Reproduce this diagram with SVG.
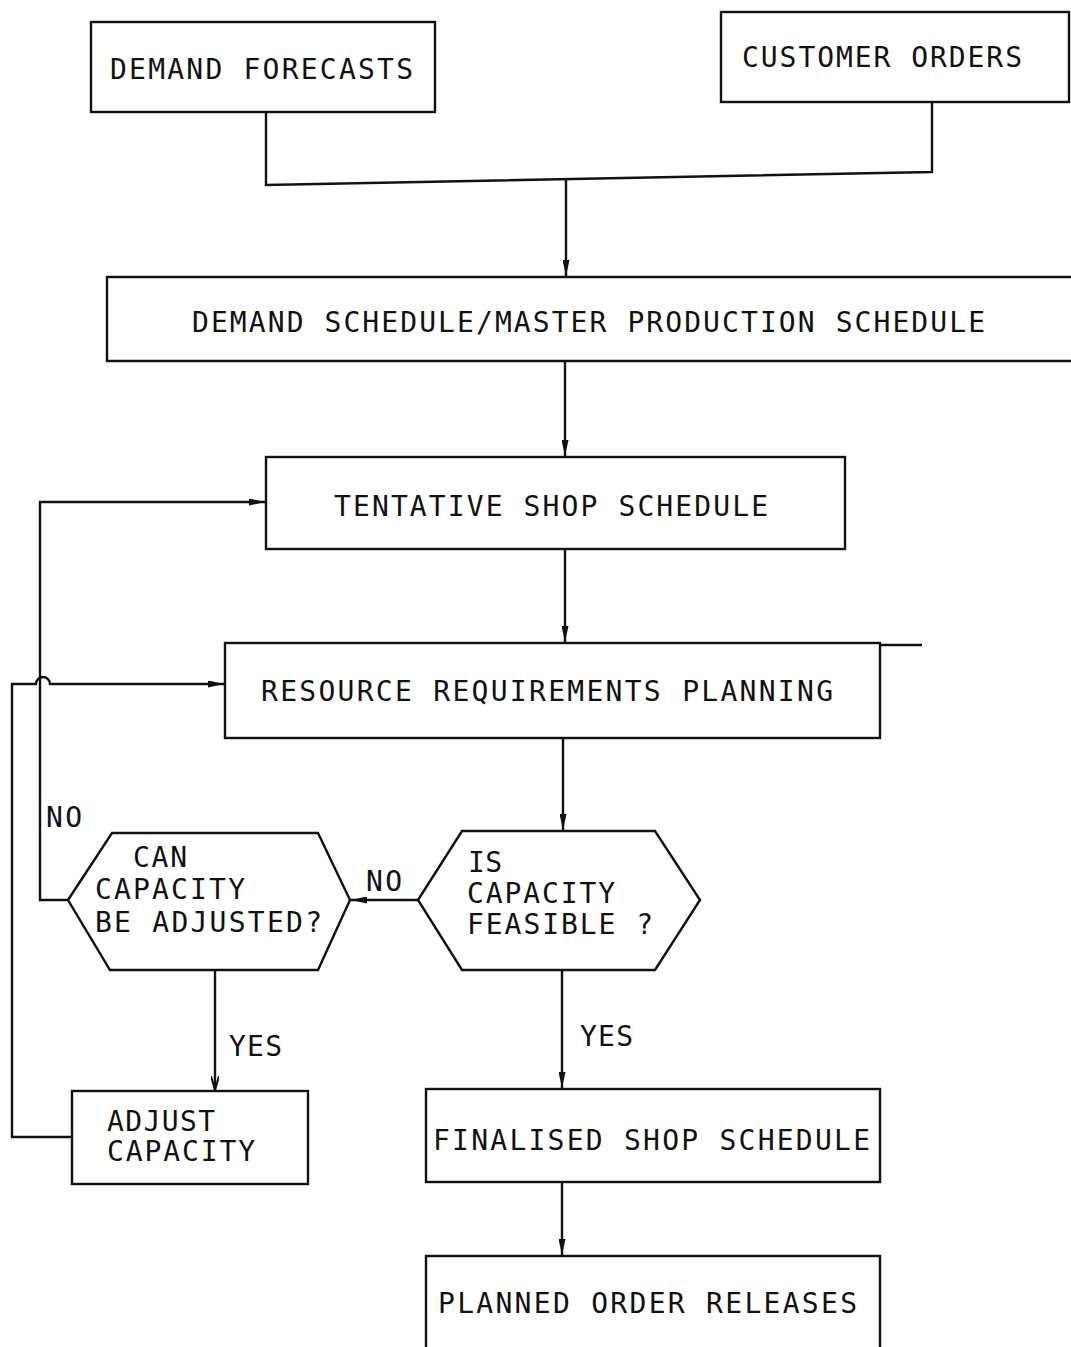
<svg xmlns="http://www.w3.org/2000/svg" width="1071" height="1347" viewBox="0 0 1071 1347">
<style>
.box{fill:none;stroke:#111;stroke-width:2.4}
.ln{fill:none;stroke:#111;stroke-width:2.4}
.t{font-family:"DejaVu Sans Mono","Liberation Mono",monospace;font-size:28px;fill:#111}
</style>
<defs>
<marker id="ah" viewBox="0 0 16 7" refX="16" refY="3.5" markerWidth="16" markerHeight="7" markerUnits="userSpaceOnUse" orient="auto">
<path d="M0,0 L16,3.5 L0,7 Z" fill="#111"/>
</marker>
<marker id="ao" viewBox="0 0 14 8" refX="14" refY="4" markerWidth="14" markerHeight="8" markerUnits="userSpaceOnUse" orient="auto">
<path d="M0,0 L14,4 L0,8" fill="none" stroke="#111" stroke-width="2"/>
</marker>
</defs>
<rect width="1071" height="1347" fill="#fff"/>
<g id="connectors">
<path class="ln" d="M266,112 V185 L932,172 V102"/>
<path class="ln" d="M566,180 V276" marker-end="url(#ah)"/>
<path class="ln" d="M565,362 V456" marker-end="url(#ah)"/>
<path class="ln" d="M565,549 V642" marker-end="url(#ah)"/>
<path class="ln" d="M563,738 V830" marker-end="url(#ah)"/>
<path class="ln" d="M418,900 H351" marker-end="url(#ah)"/>
<path class="ln" d="M68,900 H40 V502 H265" marker-end="url(#ah)"/>
<path class="ln" d="M72,1137 H12 V684 H36 A7,7 0 0 1 50,684 H224" marker-end="url(#ah)"/>
<path class="ln" d="M215,970 V1090" marker-end="url(#ao)"/>
<path class="ln" d="M562,970 V1088" marker-end="url(#ah)"/>
<path class="ln" d="M562,1182 V1255" marker-end="url(#ah)"/>
<path class="ln" d="M880,645 H922"/>
</g>
<g id="demand-forecasts">
<rect class="box" x="91" y="22" width="344" height="90"/>
<text class="t" x="110" y="79" textLength="303" lengthAdjust="spacing">DEMAND FORECASTS</text>
</g>
<g id="customer-orders">
<rect class="box" x="721" y="12" width="348" height="90"/>
<text class="t" x="742" y="67" textLength="280" lengthAdjust="spacing">CUSTOMER ORDERS</text>
</g>
<g id="master-schedule">
<path class="box" d="M1071,277 H107 V361 H1071"/>
<text class="t" x="192" y="332" textLength="793" lengthAdjust="spacing">DEMAND SCHEDULE/MASTER PRODUCTION SCHEDULE</text>
</g>
<g id="tentative">
<rect class="box" x="266" y="457" width="579" height="92"/>
<text class="t" x="334" y="516" textLength="434" lengthAdjust="spacing">TENTATIVE SHOP SCHEDULE</text>
</g>
<g id="rrp">
<rect class="box" x="225" y="643" width="655" height="95"/>
<text class="t" x="261" y="701" textLength="572" lengthAdjust="spacing">RESOURCE REQUIREMENTS PLANNING</text>
</g>
<g id="feasible">
<path class="box" d="M418,900 L462,831 H655 L700,900 L655,970 H462 Z"/>
<text class="t" x="468" y="872" textLength="34" lengthAdjust="spacing">IS</text>
<text class="t" x="467" y="903" textLength="148" lengthAdjust="spacing">CAPACITY</text>
<text class="t" x="467" y="934" textLength="186" lengthAdjust="spacing">FEASIBLE ?</text>
</g>
<g id="adjustable">
<path class="box" d="M68,900 L112,833 H318 L350,900 L318,970 H110 Z"/>
<text class="t" x="133" y="867" textLength="54" lengthAdjust="spacing">CAN</text>
<text class="t" x="95" y="899" textLength="150" lengthAdjust="spacing">CAPACITY</text>
<text class="t" x="95" y="932" textLength="227" lengthAdjust="spacing">BE ADJUSTED?</text>
</g>
<g id="adjust">
<rect class="box" x="72" y="1091" width="236" height="93"/>
<text class="t" x="107" y="1131" textLength="108" lengthAdjust="spacing">ADJUST</text>
<text class="t" x="107" y="1161" textLength="148" lengthAdjust="spacing">CAPACITY</text>
</g>
<g id="finalised">
<rect class="box" x="426" y="1089" width="454" height="93"/>
<text class="t" x="433" y="1150" textLength="437" lengthAdjust="spacing">FINALISED SHOP SCHEDULE</text>
</g>
<g id="planned">
<rect class="box" x="426" y="1256" width="454" height="100"/>
<text class="t" x="438" y="1313" textLength="419" lengthAdjust="spacing">PLANNED ORDER RELEASES</text>
</g>
<g id="labels">
<text class="t" x="366" y="891" textLength="36" lengthAdjust="spacing">NO</text>
<text class="t" x="46" y="827" textLength="36" lengthAdjust="spacing">NO</text>
<text class="t" x="229" y="1056" textLength="53" lengthAdjust="spacing">YES</text>
<text class="t" x="580" y="1046" textLength="53" lengthAdjust="spacing">YES</text>
</g>
</svg>
